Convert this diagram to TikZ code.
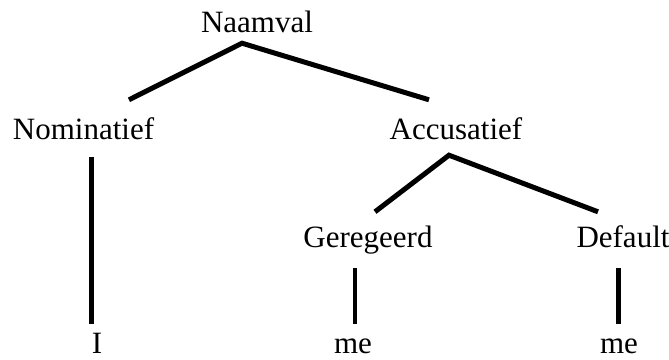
\documentclass[tikz,border=0pt]{standalone}
\usepackage{fontspec}
\setmainfont{Liberation Serif}
\usepackage{tikz}

\begin{document}
\begin{tikzpicture}[x=1pt, y=1pt,
    word/.style={inner sep=0pt, anchor=base, text height=21pt, text depth=7pt,
        font=\fontsize{31}{37}\selectfont},
    branch/.style={line width=5pt, miter limit=20}]
    \useasboundingbox (0,0) rectangle (669,359);

    \node[word] (naamval) at (257,326) {Naamval};
    \node[word] (nom) at (83.5,219) {Nominatief};
    \node[word] (acc) at (456,219) {Accusatief};
    \node[word] (ger) at (368,112) {Geregeerd};
    \node[word] (def) at (623,112) {Default};
    \node[word] (i) at (97,6) {I};
    \node[word] (me1) at (353,6) {me};
    \node[word] (me2) at (619,6) {me};

    \draw[branch] ([xshift=45.5pt,yshift=19pt]nom.north)
        -- ([xshift=-15pt,yshift=-3pt]naamval.south)
        -- ([xshift=-27pt,yshift=19pt]acc.north);
    \draw[branch] ([xshift=7pt,yshift=14pt]ger.north)
        -- ([xshift=-7pt,yshift=-8pt]acc.south)
        -- ([xshift=-25pt,yshift=14pt]def.north);

    \draw[branch] ([xshift=7.5pt,yshift=-10pt]nom.south) -- ([xshift=-6pt,yshift=8pt]i.north);
    \draw[branch, line width=3.5pt] ([xshift=-13pt,yshift=-14pt]ger.south) -- ([xshift=2pt,yshift=8pt]me1.north);
    \draw[branch] ([xshift=-5pt,yshift=-14pt]def.south) -- ([xshift=-1pt,yshift=8pt]me2.north);
\end{tikzpicture}
\end{document}
